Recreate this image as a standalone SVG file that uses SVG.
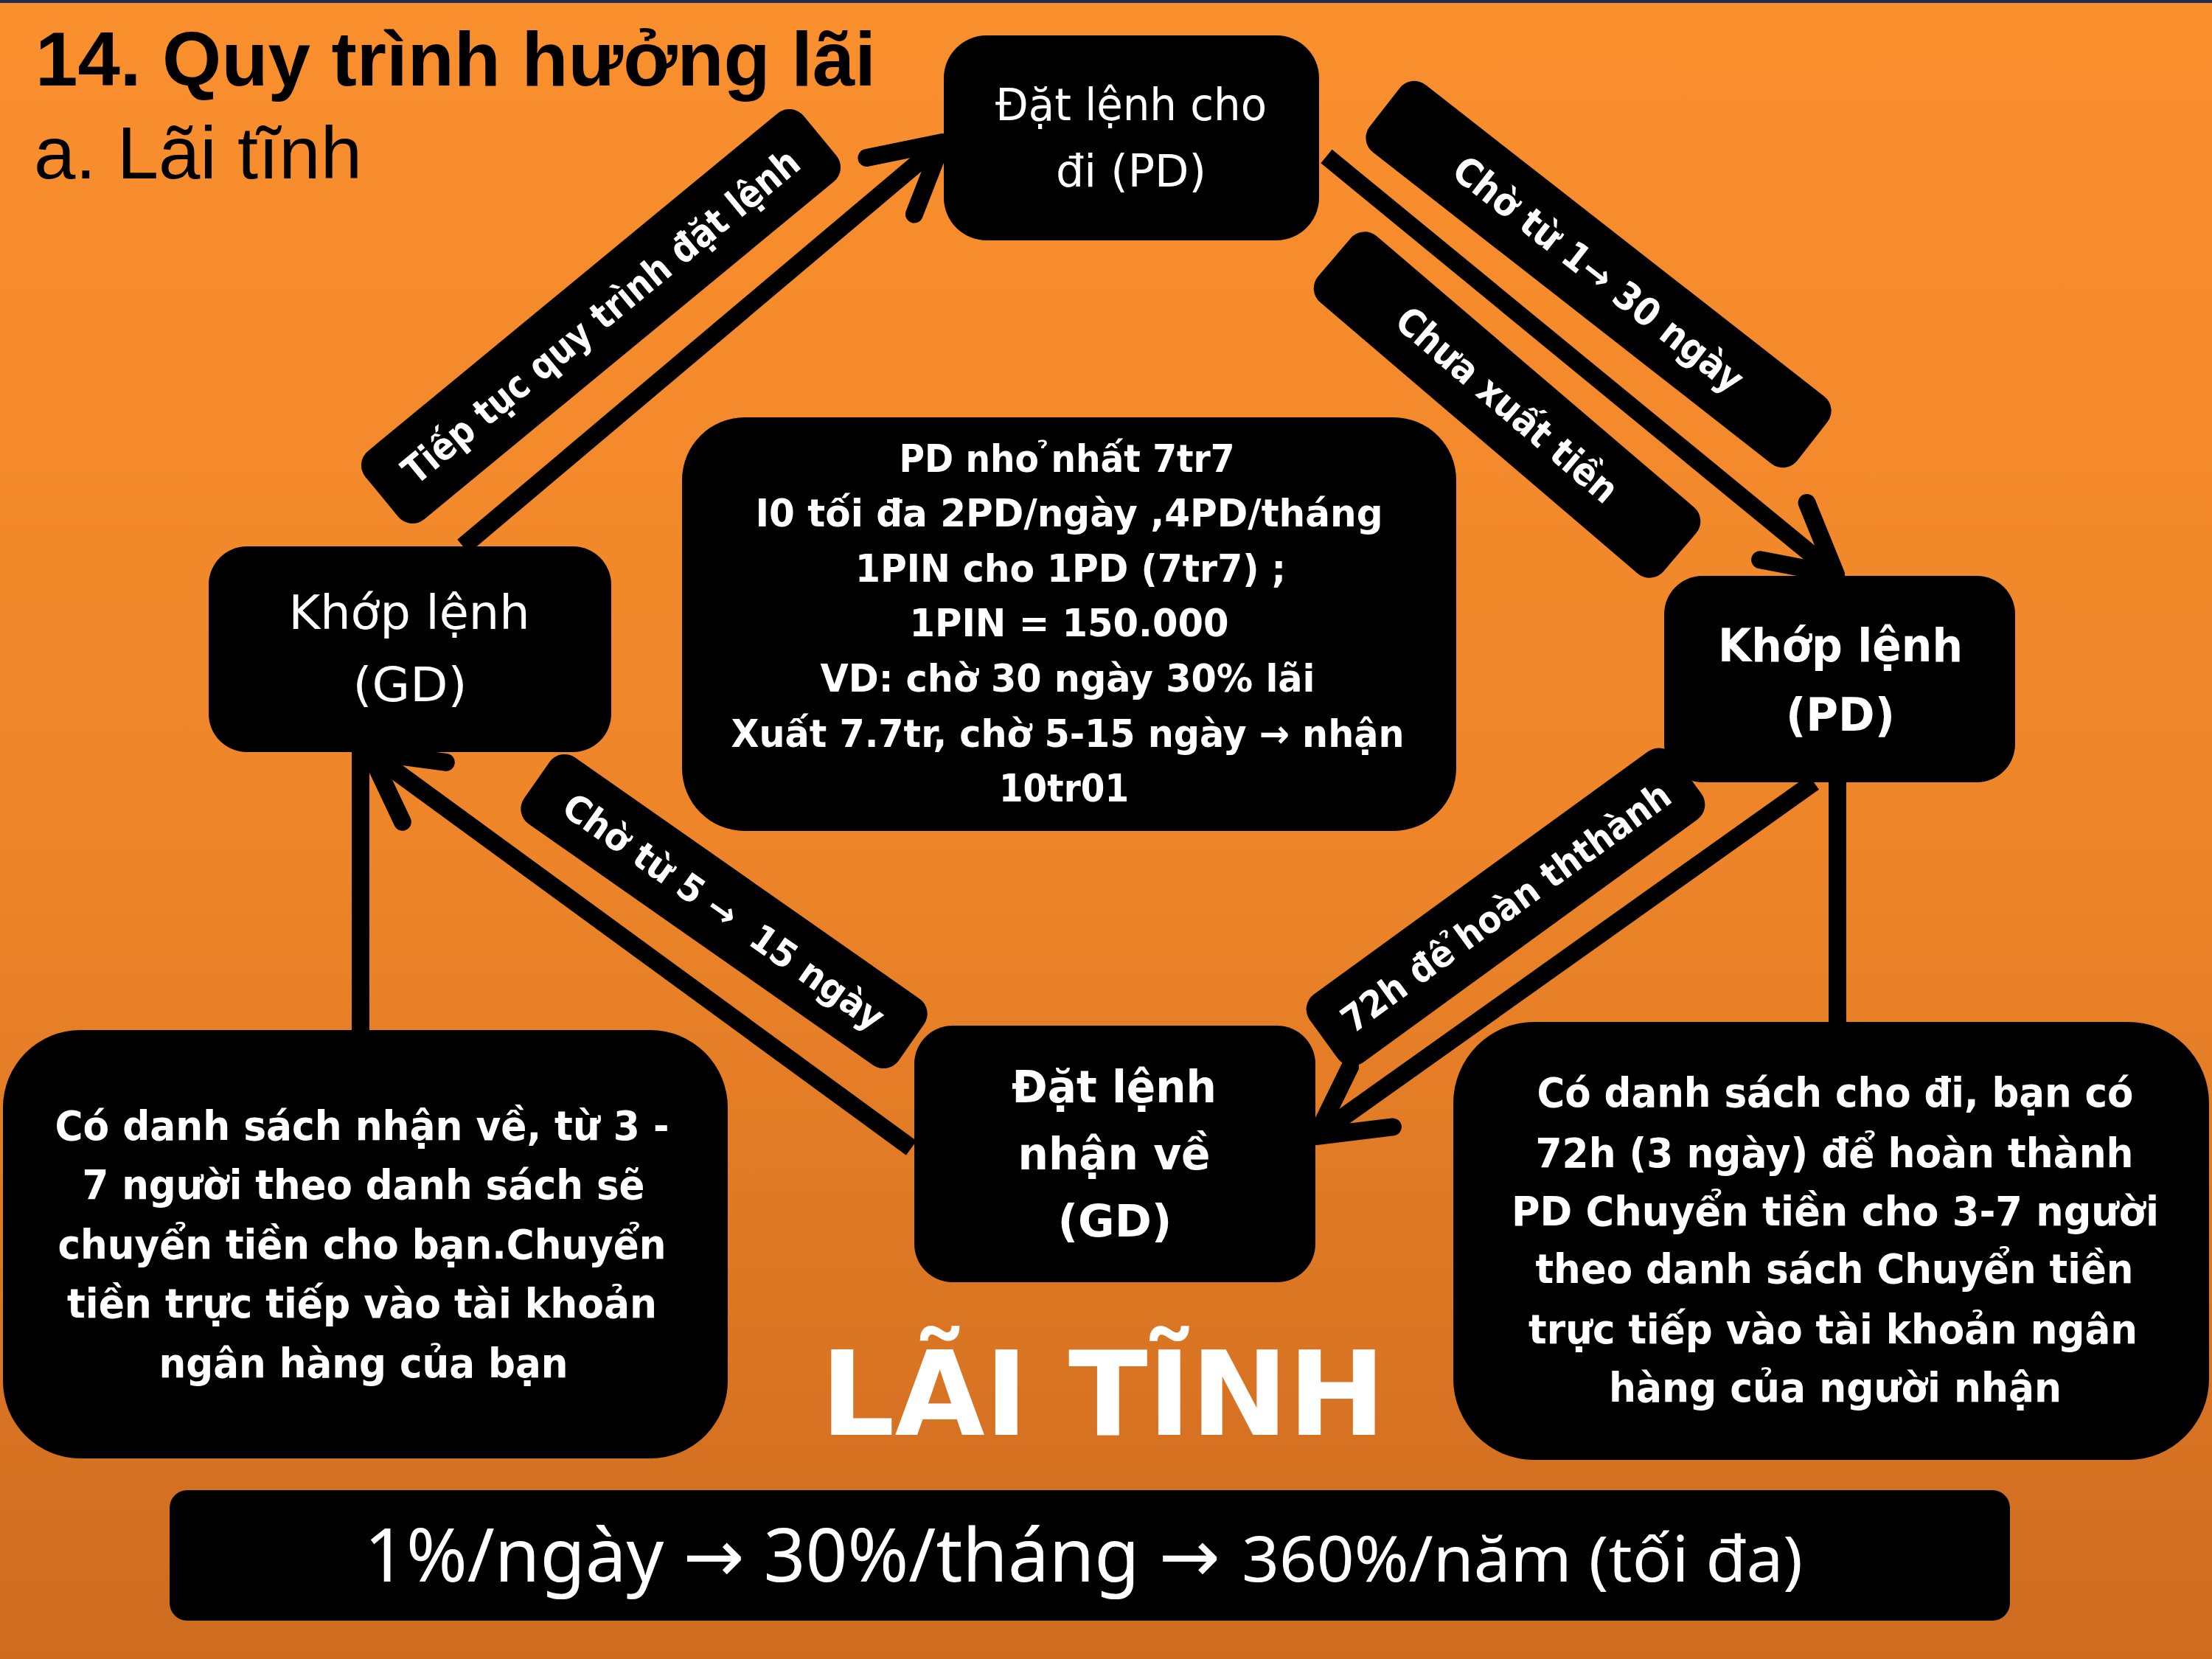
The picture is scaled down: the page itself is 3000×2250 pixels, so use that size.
<svg xmlns="http://www.w3.org/2000/svg" width="3000" height="2250" viewBox="0 0 3000 2250">
<defs>
<linearGradient id="bg" x1="0" y1="0" x2="0" y2="1">
<stop offset="0" stop-color="#F98F2D"/>
<stop offset="0.5" stop-color="#EE8529"/>
<stop offset="1" stop-color="#CD6B1F"/>
</linearGradient>
<marker id="ah" markerUnits="userSpaceOnUse" viewBox="-120 -70 140 140" markerWidth="140" markerHeight="140" refX="0" refY="0" orient="auto" overflow="visible">
<path d="M-92,-50 L0,0 L-92,50" fill="none" stroke="#000" stroke-width="24" stroke-linecap="round" stroke-linejoin="round"/>
</marker>
<style>
.box{fill:#000}
.wr{fill:#fff;font-family:"DejaVu Sans Condensed","DejaVu Sans",sans-serif;text-anchor:middle}
.wb{fill:#fff;font-family:"DejaVu Sans Condensed","DejaVu Sans",sans-serif;font-weight:bold;text-anchor:middle}
.ttl{fill:#000;font-family:"Liberation Sans",Arial,sans-serif}
.conn{stroke:#000;stroke-width:24;fill:none}
</style>
</defs>
<rect width="3000" height="2250" fill="url(#bg)"/>
<rect width="3000" height="4" fill="#23304d"/>

<g id="title">
<text class="ttl" x="48" y="116" font-weight="bold" font-size="104" textLength="1140" lengthAdjust="spacingAndGlyphs">14. Quy trình hưởng lãi</text>
<text class="ttl" x="46" y="242" font-size="100" textLength="445" lengthAdjust="spacingAndGlyphs">a. Lãi tĩnh</text>
</g>

<g id="connectors">
<line class="conn" x1="628" y1="741" x2="1278" y2="193" marker-end="url(#ah)"/>
<line class="conn" x1="1799" y1="212" x2="2490" y2="779" marker-end="url(#ah)"/>
<line class="conn" x1="2460" y1="1061" x2="1785" y2="1541" marker-end="url(#ah)"/>
<line class="conn" x1="1236" y1="1557" x2="501" y2="1020" marker-end="url(#ah)"/>
<line class="conn" x1="489" y1="1397" x2="489" y2="1015"/>
<line class="conn" x1="2492" y1="1055" x2="2492" y2="1390"/>
</g>

<g id="labels">
<g id="label-tiep-tuc" transform="translate(815,429) rotate(-39.5)">
<rect class="box" x="-385" y="-60" width="770" height="120" rx="25"/>
<text class="wb" x="0" y="18" font-size="52" textLength="680" lengthAdjust="spacingAndGlyphs">Tiếp tục quy trình đặt lệnh</text>
</g>
<g id="label-cho-1-30" transform="translate(2168,372) rotate(38)">
<rect class="box" x="-368" y="-58" width="736" height="116" rx="25"/>
<text class="wb" x="0" y="18" font-size="52" textLength="484" lengthAdjust="spacingAndGlyphs">Chờ từ 1→ 30 ngày</text>
</g>
<g id="label-chua-xuat" transform="translate(2044,549) rotate(40.5)">
<rect class="box" x="-308" y="-59" width="616" height="118" rx="25"/>
<text class="wb" x="0" y="18" font-size="52" textLength="377" lengthAdjust="spacingAndGlyphs">Chưa xuất tiền</text>
</g>
<g id="label-cho-5-15" transform="translate(982,1236) rotate(35)">
<rect class="box" x="-310" y="-55" width="620" height="110" rx="25"/>
<text class="wb" x="0" y="18" font-size="50" textLength="519" lengthAdjust="spacingAndGlyphs">Chờ từ 5 → &#160;15 ngày</text>
</g>
<g id="label-72h" transform="translate(2042,1230) rotate(-36)">
<rect class="box" x="-305" y="-57" width="610" height="114" rx="25"/>
<text class="wb" x="0" y="18" font-size="50" textLength="538" lengthAdjust="spacingAndGlyphs">72h đê &#x309;hoàn ththành</text>
</g>
</g>

<g id="node-dat-lenh-cho-di">
<rect class="box" x="1280" y="48" width="509" height="278" rx="58"/>
<text class="wr" x="1534" y="163" font-size="60" textLength="368" lengthAdjust="spacingAndGlyphs">Đặt lệnh cho</text>
<text class="wr" x="1534" y="253" font-size="60" textLength="204" lengthAdjust="spacingAndGlyphs">đi (PD)</text>
</g>

<g id="node-khop-lenh-gd">
<rect class="box" x="283" y="741" width="546" height="279" rx="52"/>
<text class="wr" x="555" y="853" font-size="64" textLength="327" lengthAdjust="spacingAndGlyphs">Khớp lệnh</text>
<text class="wr" x="556" y="951" font-size="64" textLength="155" lengthAdjust="spacingAndGlyphs">(GD)</text>
</g>

<g id="node-khop-lenh-pd">
<rect class="box" x="2257" y="781" width="476" height="280" rx="52"/>
<text class="wb" x="2496" y="897" font-size="62" textLength="332" lengthAdjust="spacingAndGlyphs">Khớp lệnh</text>
<text class="wb" x="2496" y="991" font-size="62" textLength="148" lengthAdjust="spacingAndGlyphs">(PD)</text>
</g>

<g id="node-dat-lenh-nhan-ve">
<rect class="box" x="1240" y="1391" width="544" height="348" rx="52"/>
<text class="wb" x="1511" y="1495" font-size="60" textLength="278" lengthAdjust="spacingAndGlyphs">Đặt lệnh</text>
<text class="wb" x="1511" y="1586" font-size="60" textLength="261" lengthAdjust="spacingAndGlyphs">nhận về</text>
<text class="wb" x="1512" y="1677" font-size="60" textLength="155" lengthAdjust="spacingAndGlyphs">(GD)</text>
</g>

<g id="node-info-center">
<rect class="box" x="925" y="566" width="1050" height="561" rx="85"/>
<text class="wb" x="1447" y="640" font-size="52" textLength="455" lengthAdjust="spacingAndGlyphs">PD nho &#x309;nhất 7tr7</text>
<text class="wb" x="1450" y="714" font-size="52" textLength="851" lengthAdjust="spacingAndGlyphs">I0 tối đa 2PD/ngày ,4PD/tháng</text>
<text class="wb" x="1452" y="789" font-size="52" textLength="584" lengthAdjust="spacingAndGlyphs">1PIN cho 1PD (7tr7) ;</text>
<text class="wb" x="1450" y="863" font-size="52" textLength="433" lengthAdjust="spacingAndGlyphs">1PIN = 150.000</text>
<text class="wb" x="1448" y="938" font-size="52" textLength="671" lengthAdjust="spacingAndGlyphs">VD: chờ 30 ngày 30% lãi</text>
<text class="wb" x="1448" y="1013" font-size="52" textLength="913" lengthAdjust="spacingAndGlyphs">Xuất 7.7tr, chờ 5-15 ngày → nhận</text>
<text class="wb" x="1443" y="1087" font-size="52" textLength="176" lengthAdjust="spacingAndGlyphs">10tr01</text>
</g>

<g id="node-info-left">
<rect class="box" x="4" y="1397" width="983" height="581" rx="105"/>
<text class="wb" x="491" y="1546" font-size="55" textLength="833" lengthAdjust="spacingAndGlyphs">Có danh sách nhận về, từ 3 -</text>
<text class="wb" x="493" y="1626" font-size="55" textLength="763" lengthAdjust="spacingAndGlyphs">7 người theo danh sách sẽ</text>
<text class="wb" x="491" y="1707" font-size="55" textLength="825" lengthAdjust="spacingAndGlyphs">chuyển tiền cho bạn.Chuyển</text>
<text class="wb" x="491" y="1787" font-size="55" textLength="800" lengthAdjust="spacingAndGlyphs">tiền trực tiếp vào tài khoản</text>
<text class="wb" x="493" y="1868" font-size="55" textLength="555" lengthAdjust="spacingAndGlyphs">ngân hàng của bạn</text>
</g>

<g id="node-info-right">
<rect class="box" x="1971" y="1386" width="1025" height="594" rx="110"/>
<text class="wb" x="2489" y="1501" font-size="55" textLength="809" lengthAdjust="spacingAndGlyphs">Có danh sách cho đi, bạn có</text>
<text class="wb" x="2488" y="1583" font-size="55" textLength="811" lengthAdjust="spacingAndGlyphs">72h (3 ngày) để hoàn thành</text>
<text class="wb" x="2489" y="1662" font-size="55" textLength="878" lengthAdjust="spacingAndGlyphs">PD Chuyển tiền cho 3-7 người</text>
<text class="wb" x="2488" y="1740" font-size="55" textLength="811" lengthAdjust="spacingAndGlyphs">theo danh sách Chuyển tiền</text>
<text class="wb" x="2486" y="1822" font-size="55" textLength="826" lengthAdjust="spacingAndGlyphs">trực tiếp vào tài khoản ngân</text>
<text class="wb" x="2489" y="1901" font-size="55" textLength="614" lengthAdjust="spacingAndGlyphs">hàng của người nhận</text>
</g>

<g id="heading-lai-tinh">
<text class="wb" x="1496" y="1946" font-size="158" textLength="766" lengthAdjust="spacingAndGlyphs">LÃI TĨNH</text>
</g>

<g id="rate-bar">
<rect class="box" x="230" y="2021" width="2496" height="177" rx="24"/>
<text x="494" y="2145" fill="#fff" font-family="'Noto Sans','DejaVu Sans',sans-serif" font-size="100" textLength="1161" lengthAdjust="spacingAndGlyphs">1%/ngày → 30%/tháng →</text>
<text x="1684" y="2145" fill="#fff" font-family="'Noto Sans','DejaVu Sans',sans-serif" font-size="86" textLength="761" lengthAdjust="spacingAndGlyphs">360%/năm (tối đa)</text>
</g>
</svg>
